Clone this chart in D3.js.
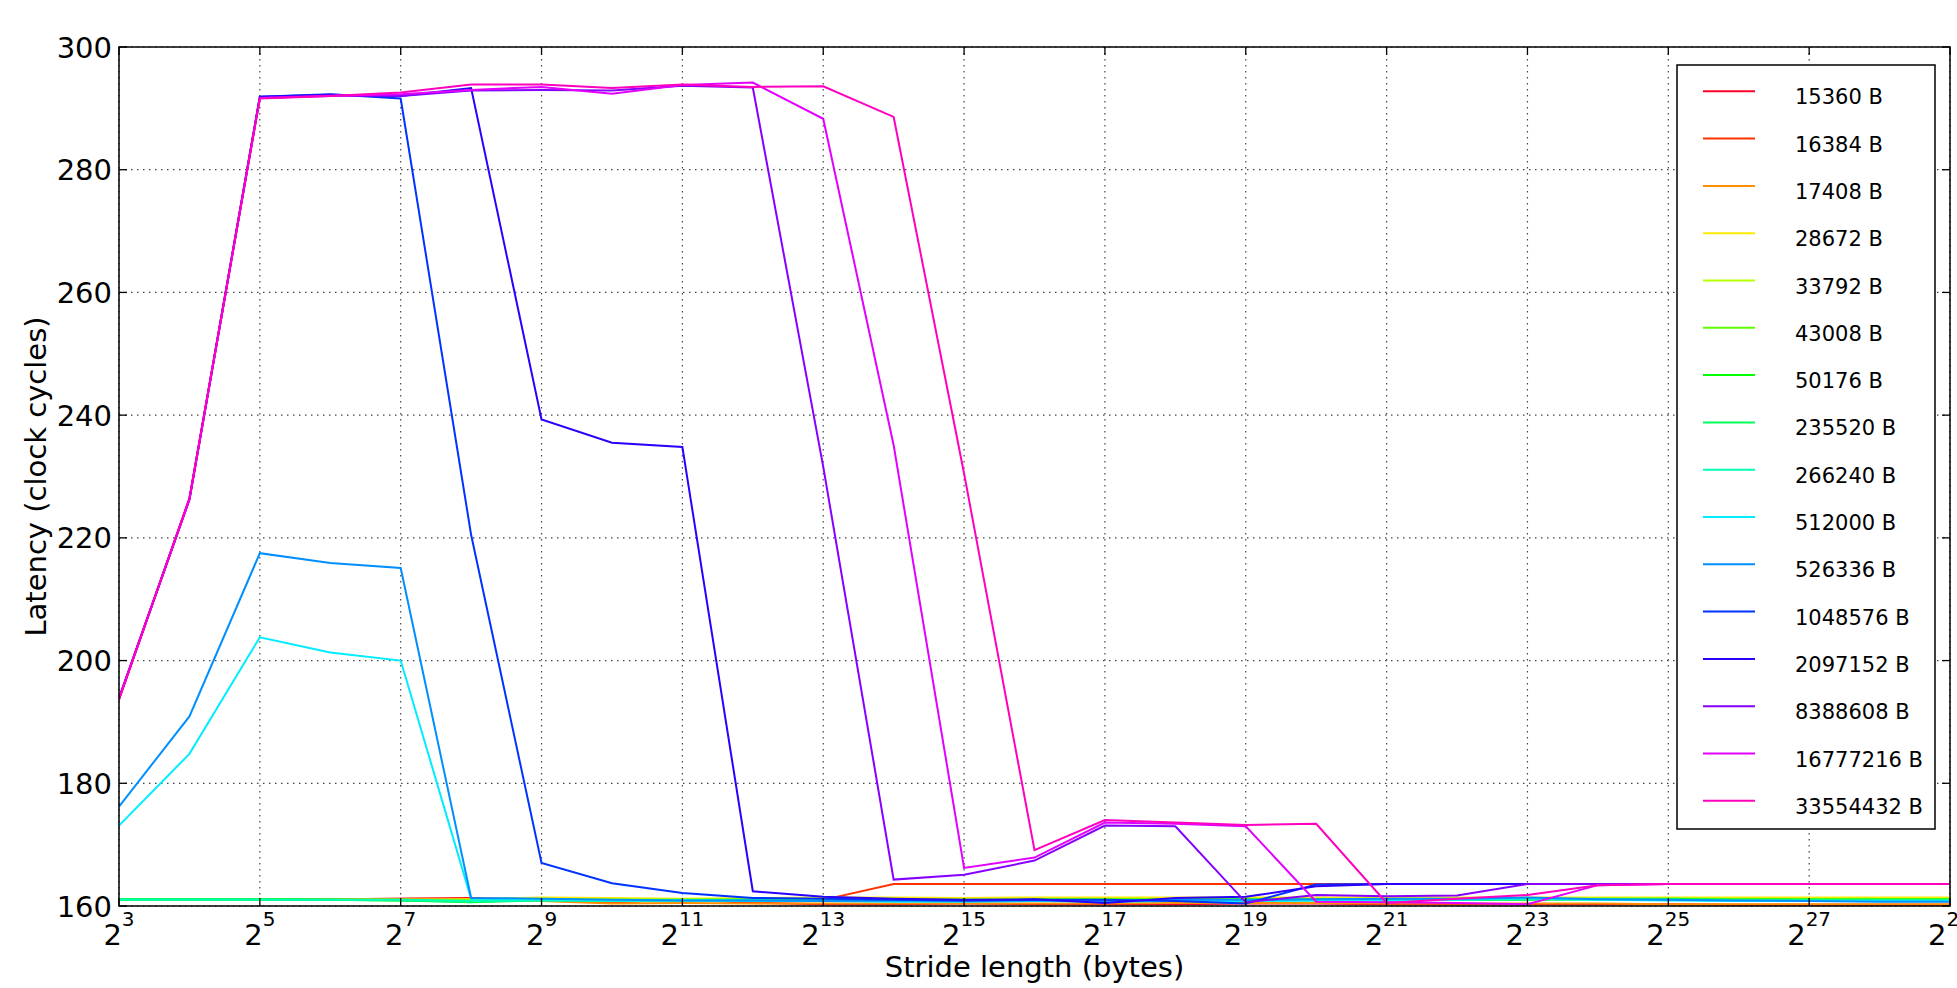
<!DOCTYPE html>
<html>
<head>
<meta charset="utf-8">
<script src="https://cdn.jsdelivr.net/npm/d3@7/dist/d3.min.js"></script>
<style>
    body { margin: 0; background: #fff; }
    svg { display: block; font-family: "DejaVu Sans", sans-serif; }
</style>
</head>
<body>
<svg id="chart" width="1957" height="988"></svg>
<script>
// stride exponents (stride = 2^e bytes)
const strideExp = [3, 4, 5, 6, 7, 8, 9, 10, 11, 12, 13, 14, 15, 16, 17, 18, 19, 20, 21, 22, 23, 24, 25, 26, 27, 28, 29];
const xTickExp = [3, 5, 7, 9, 11, 13, 15, 17, 19, 21, 23, 25, 27, 29];
const yTicks = [160, 180, 200, 220, 240, 260, 280, 300];

// array sizes, one series each
const sizes = ["15360 B", "16384 B", "17408 B", "28672 B", "33792 B", "43008 B", "50176 B", "235520 B",
    "266240 B", "512000 B", "526336 B", "1048576 B", "2097152 B", "8388608 B", "16777216 B", "33554432 B"];

// latency (clock cycles) for each stride
const lat15360 = [161.0, 161.0, 161.05, 161.1, 161.2, 161.3, 161.0, 160.6, 161.1, 160.5, 160.3, 160.3, 160.4, 160.3, 160.3, 160.3, 160.4, 160.4, 160.3, 160.3, 160.3, 160.3, 160.3, 160.2, 160.2, 160.2, 160.2];
const lat16384 = [161.0, 161.0, 161.1, 161.1, 161.2, 161.2, 161.0, 160.6, 161.0, 160.7, 161.0, 163.6, 163.6, 163.6, 163.6, 163.6, 163.6, 163.6, 163.6, 163.6, 163.6, 163.6, 163.6, 163.6, 163.6, 163.6, 163.6];
const lat17408 = [161.0, 161.0, 161.0, 161.0, 161.0, 160.9, 160.8, 160.4, 160.5, 160.4, 160.4, 160.4, 160.4, 160.4, 160.4, 160.5, 160.5, 160.5, 160.4, 160.4, 160.4, 160.4, 160.3, 160.3, 160.3, 160.3, 160.3];
const lat28672 = [161.0, 161.0, 161.0, 161.0, 161.0, 161.1, 161.4, 161.3, 161.2, 161.3, 161.4, 161.4, 161.3, 161.4, 161.4, 161.4, 161.4, 161.4, 161.4, 161.4, 161.4, 161.4, 161.4, 161.4, 161.4, 161.4, 161.4];
const lat33792 = [161.0, 161.0, 161.0, 161.0, 161.0, 161.0, 161.2, 161.1, 161.1, 161.2, 161.2, 161.2, 161.1, 161.2, 161.2, 161.2, 161.2, 161.2, 161.2, 161.2, 161.2, 161.3, 161.3, 161.2, 161.2, 161.2, 161.2];
const lat43008 = [161.05, 161.05, 161.05, 161.05, 161.0, 160.9, 161.1, 161.0, 161.0, 161.1, 161.1, 161.1, 161.0, 161.1, 161.1, 161.1, 161.1, 161.1, 161.1, 161.1, 161.1, 161.2, 161.2, 161.1, 161.1, 161.1, 161.1];
const lat50176 = [161.05, 161.05, 161.05, 161.0, 160.9, 160.7, 161.0, 160.9, 160.9, 161.0, 161.0, 161.0, 160.9, 161.0, 161.0, 161.0, 161.0, 161.0, 161.0, 161.0, 161.0, 161.1, 161.1, 161.0, 161.0, 161.0, 161.0];
const lat235520 = [161.1, 161.1, 161.1, 161.0, 160.9, 160.6, 160.9, 160.9, 160.9, 160.9, 161.0, 160.9, 160.9, 161.0, 160.9, 160.9, 161.0, 161.0, 161.0, 161.0, 161.1, 161.1, 161.1, 161.0, 161.0, 161.0, 161.0];
const lat266240 = [161.0, 161.0, 161.0, 161.0, 161.0, 160.8, 160.9, 160.8, 160.9, 160.9, 160.9, 160.9, 160.8, 160.9, 160.9, 160.9, 160.9, 160.9, 160.9, 161.0, 161.1, 161.0, 161.0, 160.9, 160.9, 160.9, 160.9];
const lat512000 = [173.1, 184.8, 203.8, 201.3, 200.0, 161.2, 161.1, 160.9, 160.9, 160.8, 160.8, 160.7, 160.7, 160.8, 160.7, 160.8, 160.8, 160.9, 160.9, 161.0, 161.3, 161.0, 160.9, 160.8, 160.8, 160.8, 160.8];
const lat526336 = [176.2, 190.9, 217.5, 215.9, 215.1, 161.3, 161.2, 161.0, 160.9, 160.9, 160.8, 160.9, 160.8, 160.9, 160.8, 161.0, 161.0, 161.1, 161.2, 161.2, 161.4, 161.1, 161.0, 160.9, 160.8, 160.7, 160.7];
const lat1048576 = [193.8, 226.3, 291.9, 292.3, 291.6, 220.5, 167.0, 163.7, 162.1, 161.3, 161.2, 161.0, 160.9, 161.0, 161.0, 160.8, 160.4, 163.5, 163.6, 163.6, 163.6, 163.6, 163.6, 163.6, 163.6, 163.6, 163.6];
const lat2097152 = [193.8, 226.3, 291.9, 292.2, 292.0, 293.3, 239.3, 235.5, 234.8, 162.4, 161.5, 161.2, 161.0, 161.1, 160.5, 161.3, 161.5, 163.2, 163.6, 163.6, 163.6, 163.6, 163.6, 163.6, 163.6, 163.6, 163.6];
const lat8388608 = [193.8, 226.3, 291.7, 292.1, 292.0, 292.9, 293.0, 292.9, 293.7, 293.4, 231.6, 164.3, 165.1, 167.4, 173.1, 173.0, 160.6, 161.8, 161.6, 161.7, 163.6, 163.6, 163.6, 163.6, 163.6, 163.6, 163.6];
const lat16777216 = [193.9, 226.2, 291.7, 292.0, 292.3, 293.0, 293.5, 292.4, 293.8, 294.2, 288.3, 235.1, 166.2, 167.9, 173.6, 173.4, 173.0, 160.7, 160.6, 160.5, 160.3, 163.4, 163.6, 163.6, 163.6, 163.6, 163.6];
const lat33554432 = [193.6, 226.5, 291.6, 292.0, 292.6, 293.9, 293.9, 293.3, 293.9, 293.5, 293.6, 288.6, 230.5, 169.1, 174.0, 173.6, 173.2, 173.4, 160.5, 161.2, 161.8, 163.4, 163.6, 163.6, 163.6, 163.6, 163.6];

const allSeries = [lat15360, lat16384, lat17408, lat28672, lat33792, lat43008, lat50176, lat235520,
    lat266240, lat512000, lat526336, lat1048576, lat2097152, lat8388608, lat16777216, lat33554432];

const svg = d3.select("#chart");

const plotLeft = 119, plotRight = 1950, plotTop = 47, plotBottom = 906;

const x = d3.scaleLog().base(2)
    .domain([Math.pow(2, 3), Math.pow(2, 29)])
    .range([plotLeft, plotRight]);

const y = d3.scaleLinear()
    .domain([160, 300])
    .range([plotBottom, plotTop]);

// matplotlib gist_rainbow colormap
const rainbow = d3.scaleLinear()
    .domain([0, 0.03, 0.215, 0.4, 0.586, 0.77, 0.954, 1])
    .range(["rgb(255,0,41)", "rgb(255,0,0)", "rgb(255,255,0)", "rgb(0,255,0)",
        "rgb(0,255,255)", "rgb(0,0,255)", "rgb(255,0,255)", "rgb(255,0,191)"])
    .interpolate(d3.interpolateRgb);
const color = i => rainbow(i / (sizes.length - 1));

// grid
const grid = svg.append("g")
    .attr("stroke", "#444")
    .attr("stroke-width", 1.2)
    .attr("stroke-dasharray", "1.5,4.5");

grid.selectAll("line.gx")
    .data(xTickExp)
    .join("line")
    .attr("class", "gx")
    .attr("x1", e => x(Math.pow(2, e)))
    .attr("x2", e => x(Math.pow(2, e)))
    .attr("y1", plotTop)
    .attr("y2", plotBottom);

grid.selectAll("line.gy")
    .data(yTicks)
    .join("line")
    .attr("class", "gy")
    .attr("x1", plotLeft)
    .attr("x2", plotRight)
    .attr("y1", d => y(d))
    .attr("y2", d => y(d));

// series lines
const line = d3.line()
    .x((d, i) => x(Math.pow(2, strideExp[i])))
    .y(d => y(d));

svg.append("defs").append("clipPath")
    .attr("id", "plot-clip")
    .append("rect")
    .attr("x", plotLeft).attr("y", plotTop)
    .attr("width", plotRight - plotLeft).attr("height", plotBottom - plotTop);

svg.append("g")
    .attr("clip-path", "url(#plot-clip)")
    .selectAll("path")
    .data(allSeries)
    .join("path")
    .attr("fill", "none")
    .attr("stroke", (d, i) => color(i))
    .attr("stroke-width", 2)
    .attr("stroke-linejoin", "miter")
    .attr("d", line);

// ticks on all four sides, pointing inward
const tickLen = 8;
const ticks = svg.append("g").attr("stroke", "#000").attr("stroke-width", 1.3);
xTickExp.forEach(e => {
    const tx = x(Math.pow(2, e));
    ticks.append("line").attr("x1", tx).attr("x2", tx).attr("y1", plotBottom).attr("y2", plotBottom - tickLen);
    ticks.append("line").attr("x1", tx).attr("x2", tx).attr("y1", plotTop).attr("y2", plotTop + tickLen);
});
yTicks.forEach(v => {
    const ty = y(v);
    ticks.append("line").attr("x1", plotLeft).attr("x2", plotLeft + tickLen).attr("y1", ty).attr("y2", ty);
    ticks.append("line").attr("x1", plotRight).attr("x2", plotRight - tickLen).attr("y1", ty).attr("y2", ty);
});

// frame
svg.append("rect")
    .attr("x", plotLeft).attr("y", plotTop)
    .attr("width", plotRight - plotLeft).attr("height", plotBottom - plotTop)
    .attr("fill", "none")
    .attr("stroke", "#000")
    .attr("stroke-width", 1.5);

// tick labels
svg.append("g")
    .selectAll("text")
    .data(yTicks)
    .join("text")
    .attr("x", plotLeft - 7)
    .attr("y", d => y(d) + 10.5)
    .attr("text-anchor", "end")
    .style("font-size", "29px")
    .text(d => d);

const xLabels = svg.append("g")
    .selectAll("text")
    .data(xTickExp)
    .join("text")
    .attr("x", e => x(Math.pow(2, e)))
    .attr("y", 945)
    .attr("text-anchor", "middle")
    .style("font-size", "29px");
xLabels.append("tspan").text("2");
xLabels.append("tspan")
    .attr("dy", -19)
    .style("font-size", "20px")
    .text(e => e);

// axis labels
svg.append("text")
    .attr("x", (plotLeft + plotRight) / 2)
    .attr("y", 977)
    .attr("text-anchor", "middle")
    .style("font-size", "29px")
    .text("Stride length (bytes)");

svg.append("text")
    .attr("transform", `translate(46,${(plotTop + plotBottom) / 2}) rotate(-90)`)
    .attr("text-anchor", "middle")
    .style("font-size", "29px")
    .text("Latency (clock cycles)");

// legend
const legend = svg.append("g");
legend.append("rect")
    .attr("x", 1677).attr("y", 65)
    .attr("width", 258).attr("height", 764)
    .attr("fill", "#fff")
    .attr("stroke", "#000")
    .attr("stroke-width", 1.5);

const entries = legend.selectAll("g.entry")
    .data(sizes)
    .join("g")
    .attr("class", "entry")
    .attr("transform", (d, i) => `translate(0,${91.3 + i * 47.3})`);

entries.append("line")
    .attr("x1", 1703).attr("x2", 1755)
    .attr("y1", 0).attr("y2", 0)
    .attr("stroke", (d, i) => color(i))
    .attr("stroke-width", 2);

entries.append("text")
    .attr("x", 1795)
    .attr("y", 13)
    .style("font-size", "21px")
    .text(d => d);
</script>
</body>
</html>
